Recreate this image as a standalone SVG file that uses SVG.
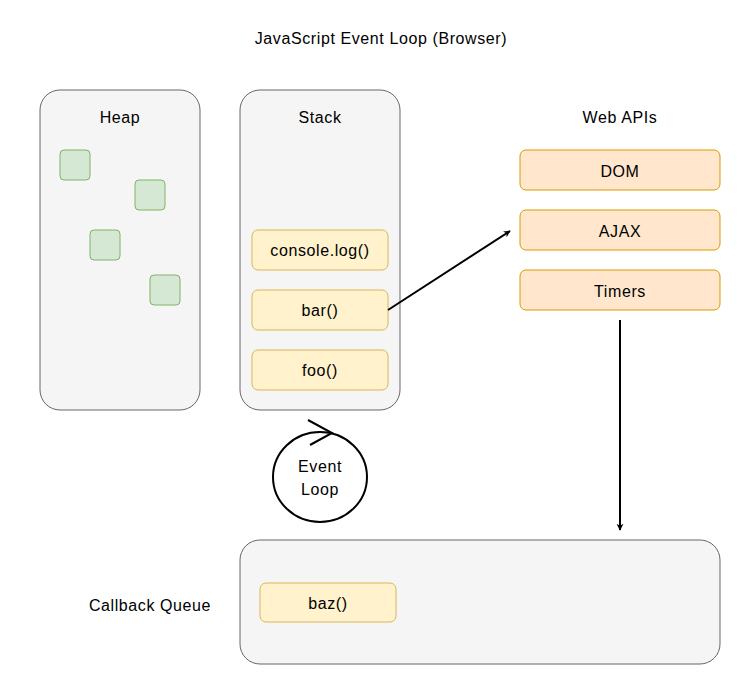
<svg xmlns="http://www.w3.org/2000/svg" width="741" height="686" viewBox="0 0 741 686">
<defs>
<style>
text{font-family:"Comic Sans MS","Liberation Sans",sans-serif;font-size:16px;fill:#000;text-anchor:middle;dominant-baseline:central;letter-spacing:0.6px}
.cont{fill:#f5f5f5;stroke:#666666;stroke-width:1}
.obj{fill:#d5e8d4;stroke:#82b366;stroke-width:1}
.frame{fill:#fff2cc;stroke:#d6b656;stroke-width:1}
.api{fill:#ffe6cc;stroke:#d79b00;stroke-width:1}
.edge{fill:none;stroke:#000;stroke-width:2}
</style>
<marker id="arr" viewBox="0 0 10 10" refX="9" refY="5" markerWidth="7" markerHeight="7" orient="auto" markerUnits="userSpaceOnUse">
<path d="M0,0 L10,5 L0,10 L3,5 Z" fill="#000"/>
</marker>
</defs>
<rect width="741" height="686" fill="#ffffff"/>
<text x="381" y="38">JavaScript Event Loop (Browser)</text>

<g id="heap">
<rect class="cont" x="40" y="90" width="160" height="320" rx="20"/>
<text x="120" y="117">Heap</text>
<rect class="obj" x="60" y="150" width="30" height="30" rx="4"/>
<rect class="obj" x="135" y="180" width="30" height="30" rx="4"/>
<rect class="obj" x="90" y="230" width="30" height="30" rx="4"/>
<rect class="obj" x="150" y="275" width="30" height="30" rx="4"/>
</g>

<g id="stack">
<rect class="cont" x="240" y="90" width="160" height="320" rx="20"/>
<text x="320" y="117">Stack</text>
</g>
<g id="console-log">
<rect class="frame" x="252" y="230" width="136" height="40" rx="6"/>
<text x="320" y="250">console.log()</text>
</g>
<g id="bar">
<rect class="frame" x="252" y="290" width="136" height="40" rx="6"/>
<text x="320" y="310">bar()</text>
</g>
<g id="foo">
<rect class="frame" x="252" y="350" width="136" height="40" rx="6"/>
<text x="320" y="370">foo()</text>
</g>

<g id="event-loop">
<ellipse cx="320" cy="477" rx="47" ry="45" fill="#ffffff" stroke="#000" stroke-width="2"/>
<path d="M308,420 L332,433 L310,445" fill="none" stroke="#000" stroke-width="2"/>
<text x="320" y="466">Event</text>
<text x="320" y="489">Loop</text>
</g>

<g id="web-apis">
<text x="620" y="117">Web APIs</text>
</g>
<g id="dom">
<rect class="api" x="520" y="150" width="200" height="40" rx="6"/>
<text x="620" y="171">DOM</text>
</g>
<g id="ajax">
<rect class="api" x="520" y="210" width="200" height="40" rx="6"/>
<text x="620" y="231">AJAX</text>
</g>
<g id="timers">
<rect class="api" x="520" y="270" width="200" height="40" rx="6"/>
<text x="620" y="291">Timers</text>
</g>

<g id="callback-queue">
<text x="150" y="605">Callback Queue</text>
<rect class="cont" x="240" y="540" width="480" height="124" rx="20"/>
</g>
<g id="baz">
<rect class="frame" x="260" y="583" width="136" height="39" rx="6"/>
<text x="328" y="603">baz()</text>
</g>

<g id="connectors">
<line class="edge" x1="388" y1="310" x2="510" y2="231" marker-end="url(#arr)"/>
<line class="edge" x1="620" y1="320" x2="620" y2="530" marker-end="url(#arr)"/>
</g>
</svg>
